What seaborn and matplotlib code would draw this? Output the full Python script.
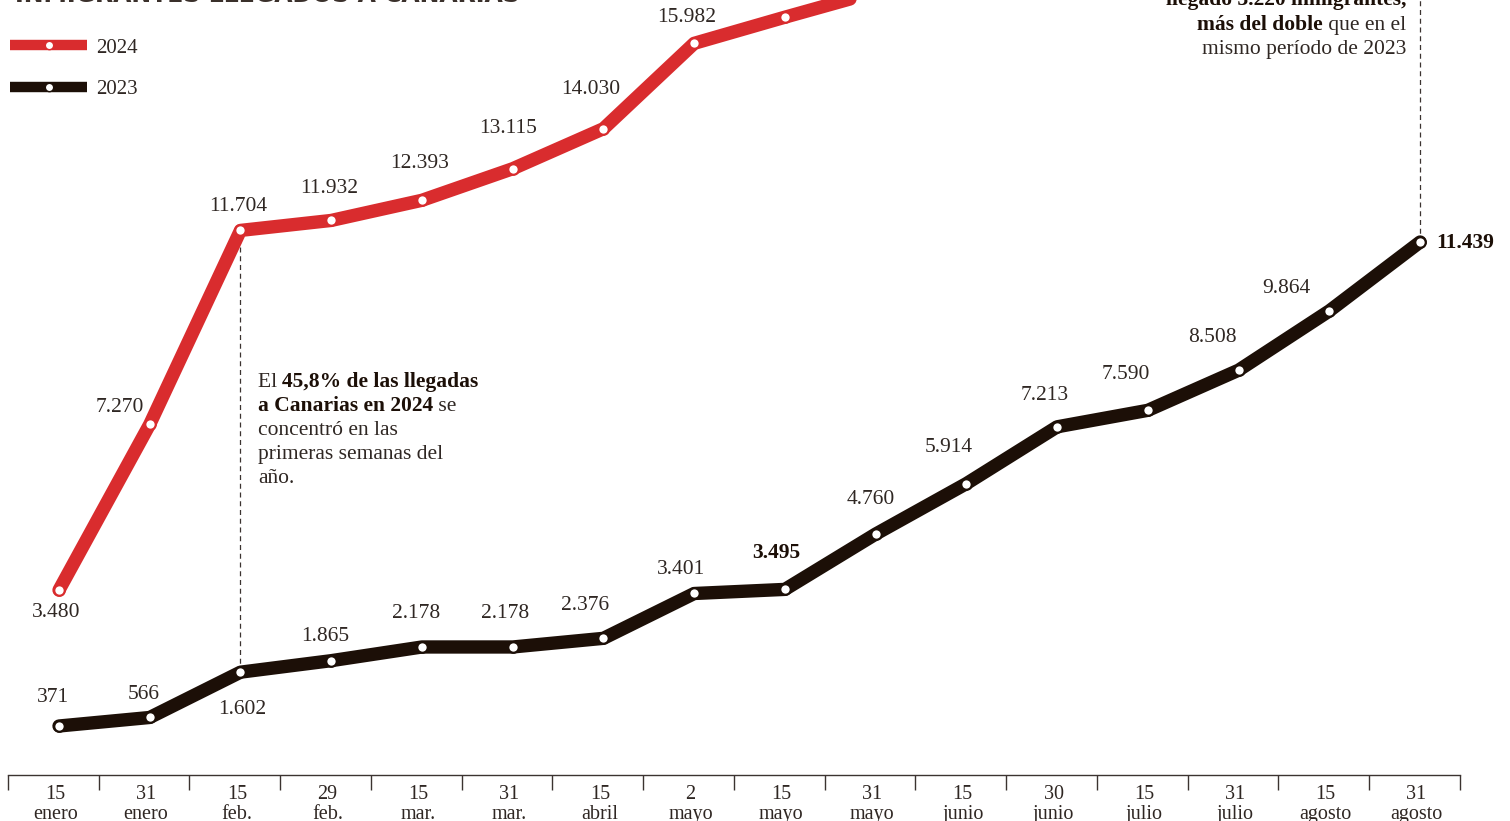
import matplotlib
matplotlib.use("Agg")
import matplotlib.pyplot as plt
from matplotlib.lines import Line2D
import seaborn as sns
import pandas as pd
import numpy as np

# ---------------- data ----------------
dates = ["15\nenero", "31\nenero", "15\nfeb.", "29\nfeb.", "15\nmar.", "31\nmar.",
         "15\nabril", "2\nmayo", "15\nmayo", "31\nmayo", "15\njunio", "30\njunio",
         "15\njulio", "31\njulio", "15\nagosto", "31\nagosto"]
values_2023 = [371, 566, 1602, 1865, 2178, 2178, 2376, 3401, 3495, 4760,
               5914, 7213, 7590, 8508, 9864, 11439]
values_2024 = [3480, 7270, 11704, 11932, 12393, 13115, 14030, 15982, 16580, 17160]
labels_2023 = ["371", "566", "1.602", "1.865", "2.178", "2.178", "2.376", "3.401",
               "3.495", "4.760", "5.914", "7.213", "7.590", "8.508", "9.864", "11.439"]
labels_2024 = ["3.480", "7.270", "11.704", "11.932", "12.393", "13.115", "14.030",
               "15.982", "16.580"]

# ---------------- style ----------------
W, H, DPI = 1510, 821, 100
RED = "#d92c2e"
BLACK = "#1c0f07"
TXT = "#2f2723"
AXC = "#3b3330"
SERIF = ["Liberation Serif", "DejaVu Serif"]

sns.set_theme(style="white")
plt.rcParams["font.family"] = SERIF

fig = plt.figure(figsize=(W / DPI, H / DPI), dpi=DPI)
fig.patch.set_facecolor("white")

# axes: left edge = 8 px, right = 1460 px, bottom spine at y = 775 px, top at 0
ax = fig.add_axes([8 / W, (H - 775) / H, (1460 - 8) / W, 775 / H])
ax.set_facecolor("white")

step = 90.74
x0 = -(59 - 8) / step
x1 = (1460 - 59) / step
ax.set_xlim(x0, x1)
# y mapping: 371 -> 726 px, 11439 -> 242 px
k = (726 - 242) / (11439 - 371)
ytop = 371 + 726 / k
ybot = 371 - (775 - 726) / k
ax.set_ylim(ybot, ytop)

df23 = pd.DataFrame({"pos": np.arange(len(values_2023)), "v": values_2023})
df24 = pd.DataFrame({"pos": np.arange(len(values_2024)), "v": values_2024})

lw = 9.6
for df, col in [(df24, RED), (df23, BLACK)]:
    sns.lineplot(data=df, x="pos", y="v", ax=ax, color=col, linewidth=lw,
                 marker="o", markersize=7.6, markerfacecolor="white",
                 markeredgecolor=col, markeredgewidth=1.6,
                 solid_capstyle="round", solid_joinstyle="round",
                 errorbar=None, clip_on=False, zorder=3)

# dashed reference lines
ax.vlines(2, values_2023[2], values_2024[2], colors=AXC, linestyles=(0, (4, 3)),
          linewidth=0.9, zorder=1)
ax.vlines(15, values_2023[15], ytop, colors=AXC, linestyles=(0, (4, 3)),
          linewidth=0.9, zorder=1)

# data labels
off24 = [(-3, -22), (-30, 17), (-2, 24), (-2, 32), (-2, 37), (-5, 40), (-13, 39),
         (-8, 26), (-7, 24)]
off23 = [(-6, 29), (-6, 23), (2, -37), (-6, 24), (-6, 33), (-8, 33), (-18, 33),
         (-13, 24), (-9, 36), (-5, 35), (-18, 36), (-12, 31), (-22, 36), (-26, 33),
         (-43, 22), (16, -1)]
FS = 15.5
for i, (lab, (dx, dy)) in enumerate(zip(labels_2024, off24)):
    ax.annotate(lab, (i, values_2024[i]), xytext=(dx, dy), textcoords="offset pixels",
                ha="center", va="center", fontsize=FS, color=TXT, annotation_clip=False)
for i, (lab, (dx, dy)) in enumerate(zip(labels_2023, off23)):
    bold = i in (8, 15)
    ax.annotate(lab, (i, values_2023[i]), xytext=(dx, dy), textcoords="offset pixels",
                ha="left" if i == 15 else "center", va="center", fontsize=FS,
                color=BLACK if bold else TXT, fontweight="bold" if bold else "normal",
                annotation_clip=False)

# x axis
for s in ["left", "right", "top"]:
    ax.spines[s].set_visible(False)
ax.spines["bottom"].set_color(AXC)
ax.spines["bottom"].set_linewidth(1.0)
ax.set_yticks([])
ax.set_xticks(np.arange(len(dates)) - 0.04)
ax.set_xticklabels(dates, fontsize=14.5, color=TXT, linespacing=1.12)
ax.set_xticks(x0 + np.arange(len(dates) + 1), minor=True)
ax.tick_params(axis="x", which="major", bottom=True, length=0, pad=7)
ax.tick_params(axis="x", which="minor", bottom=True, length=11, width=1.0,
               color=AXC, direction="out")
ax.set_xlabel("")
ax.set_ylabel("")

# legend
h24 = Line2D([], [], color=RED, linewidth=7.5, marker="o", markersize=6,
             markerfacecolor="white", markeredgecolor=RED, solid_capstyle="butt")
h23 = Line2D([], [], color=BLACK, linewidth=7.5, marker="o", markersize=6,
             markerfacecolor="white", markeredgecolor=BLACK, solid_capstyle="butt")
leg = fig.legend([h24, h23], ["2024", "2023"], loc="upper left",
                 bbox_to_anchor=(10 / W, 1 - 38 / H), frameon=False, fontsize=15,
                 handlelength=3.7, handletextpad=0.45, labelspacing=1.05,
                 borderpad=0, borderaxespad=0, numpoints=1)
for t in leg.get_texts():
    t.set_color(TXT)


def fx(x):
    return x / W


def fy(y):
    return 1 - y / H


renderer = fig.canvas.get_renderer()


def mixed_line(x, y, parts, align="left", size=15.5):
    """parts: list of (text, bold). Draw at baseline y (px)."""
    cur = x
    seq = parts if align == "left" else list(reversed(parts))
    for txt, b in seq:
        t = fig.text(fx(cur), fy(y), txt, ha=align, va="baseline", fontsize=size,
                     color=BLACK if b else TXT, fontweight="bold" if b else "normal")
        bb = t.get_window_extent(renderer)
        cur = cur + bb.width if align == "left" else cur - bb.width


# title (cropped at top, as in the original)
fig.text(fx(15), fy(1.5), "INMIGRANTES LLEGADOS A CANARIAS", ha="left", va="baseline",
         fontsize=17, fontweight="bold", color="#3a302b", family=["DejaVu Sans"])

# left annotation
mixed_line(258, 387, [("El ", False), ("45,8% de las llegadas", True)])
mixed_line(258, 411, [("a Canarias en 2024", True), (" se", False)])
mixed_line(258, 435, [("concentró en las", False)])
mixed_line(258, 459, [("primeras semanas del", False)])
mixed_line(258, 483, [("año.", False)])

# right annotation (cropped at top, as in the original)
mixed_line(1406, 5, [("llegado 3.220 inmigrantes,", True)], align="right")
mixed_line(1406, 30, [("más del doble", True), (" que en el", False)], align="right")
mixed_line(1406, 54, [("mismo período de 2023", False)], align="right")

fig.savefig("out.png", dpi=DPI, facecolor="white")
